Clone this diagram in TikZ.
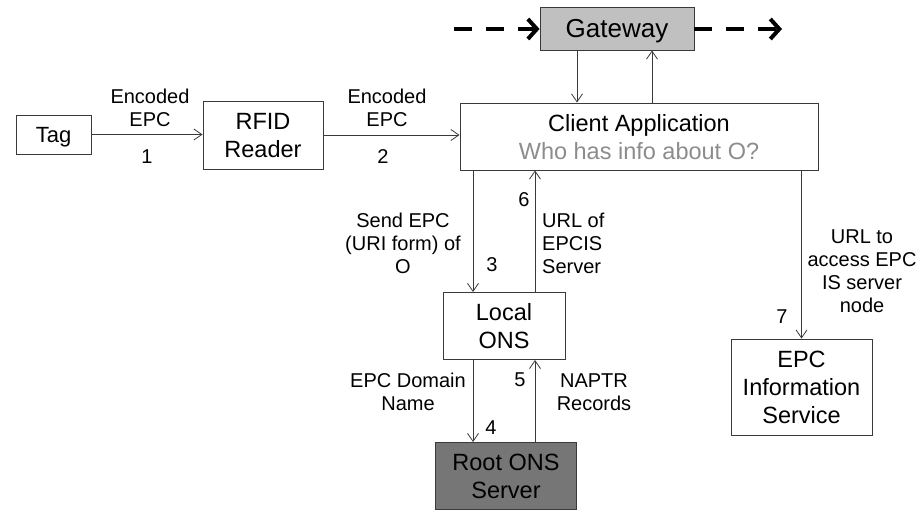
\documentclass[tikz,border=0pt]{standalone}
\usepackage{fontspec}
\setmainfont{Liberation Sans}
\usetikzlibrary{arrows.meta}
\definecolor{boxline}{HTML}{3A3A3A}
\definecolor{gwfill}{HTML}{C0C0C0}
\definecolor{rootfill}{HTML}{767676}
\definecolor{subgray}{HTML}{8C8C8C}
\tikzset{
  box/.style={draw=boxline, line width=0.9pt, inner sep=0pt, align=center,
    text depth=0pt, font=\fontsize{23.5}{28}\selectfont},
  lbl/.style={inner sep=0pt, align=center, font=\fontsize{20}{23}\selectfont},
  arr/.style={draw=boxline, line width=0.8pt, -{Straight Barb[length=8pt,width=11pt]}},
  dasharr/.style={line width=4pt, dash pattern=on 18pt off 14pt,
    -{Straight Barb[length=9pt,width=20pt,line width=4pt]}}
}
\begin{document}
\begin{tikzpicture}[x=1pt,y=-1pt]
\useasboundingbox (0,0) rectangle (920,519);
% boxes
\node[box, minimum width=75pt, minimum height=39pt, font=\fontsize{22}{26}\selectfont] (tag) at (53.5,134.5) {Tag};
\node[box, minimum width=120pt, minimum height=68pt] (rfid) at (263,135) {RFID\\Reader};
\node[box, minimum width=358pt, minimum height=67pt] (client) at (639,136.5)
  {Client Application\\\textcolor{subgray}{Who has info about O?}};
\node[box, fill=gwfill, minimum width=154pt, minimum height=43pt,
  font=\fontsize{26}{30}\selectfont] (gw) at (617,28.5) {Gateway};
\node[box, minimum width=122pt, minimum height=67pt] (local) at (504,326) {Local\\ONS};
\node[box, fill=rootfill, minimum width=141pt, minimum height=67pt] (root) at (506,476) {Root ONS\\Server};
\node[box, minimum width=141pt, minimum height=96pt] (epcis) at (801.5,387) {EPC\\Information\\Service};
% dashed arrows
\coordinate (dl) at (454,29);
\coordinate (dr) at (782,29);
\draw[dasharr] (dl) -- (dl -| gw.west);
\draw[dasharr] (gw.east |- dr) -- (dr);
% connectors
\draw[arr] (tag.east) -- (tag.east -| rfid.west);
\draw[arr] (rfid.east) -- (rfid.east -| client.west);
\draw[arr] ([xshift=-40pt]gw.south) -- ([xshift=-40pt]gw.south |- client.north);
\draw[arr] ([xshift=35pt]gw.south |- client.north) -- ([xshift=35pt]gw.south);
\draw[arr] ([xshift=-31pt]local.north |- client.south) -- ([xshift=-31pt]local.north);
\draw[arr] ([xshift=31pt]local.north) -- ([xshift=31pt]local.north |- client.south);
\draw[arr] ([xshift=-31pt]local.south) -- ([xshift=-31pt]local.south |- root.north);
\draw[arr] ([xshift=31pt]local.south |- root.north) -- ([xshift=31pt]local.south);
\draw[arr] (epcis.north |- client.south) -- (epcis.north);
% labels
\node[lbl] (l1) at (150,108) {Encoded\\EPC};
\node[lbl] (n1) at (147,157) {1};
\node[lbl] (l2) at (387,108) {Encoded\\EPC};
\node[lbl] (n2) at (383,157) {2};
\node[lbl] (l3) at (403,243) {Send EPC\\(URI form) of\\O};
\node[lbl] (n3) at (492,265) {3};
\node[lbl] (n6) at (524,200) {6};
\node[lbl, align=left, anchor=west] (l6) at (542,243) {URL of\\EPCIS\\Server};
\node[lbl] (l4) at (408,392) {EPC Domain\\Name};
\node[lbl] (n5) at (520,380) {5};
\node[lbl] (n4) at (491,428) {4};
\node[lbl] (l5) at (594,392) {NAPTR\\Records};
\node[lbl] (l7) at (862,271) {URL to\\access EPC\\IS server\\node};
\node[lbl] (n7) at (782,317) {7};
\end{tikzpicture}
\end{document}
